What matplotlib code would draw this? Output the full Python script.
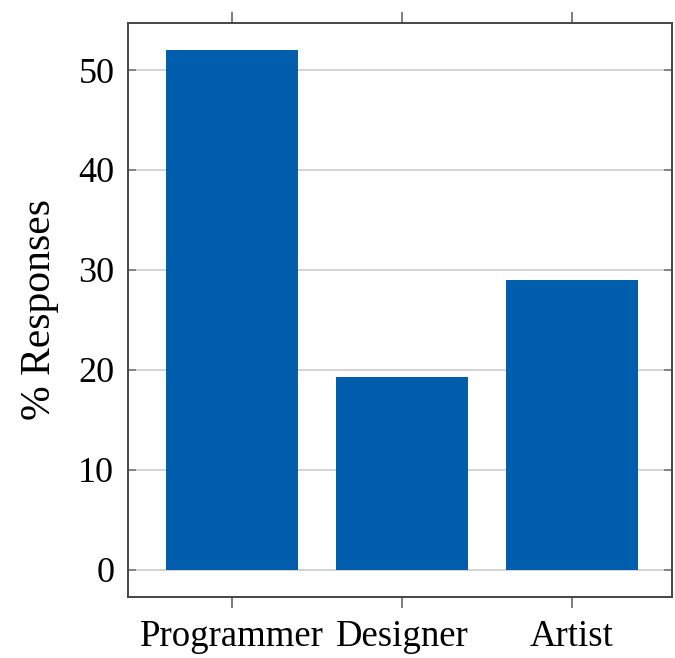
import matplotlib
matplotlib.use("Agg")
import matplotlib.pyplot as plt

roles = ["Programmer", "Designer", "Artist"]
responses = [52.0, 19.3, 29.0]
yticks = [0, 10, 20, 30, 40, 50]

plt.rcParams["font.family"] = ["Liberation Serif", "DejaVu Serif"]

fig = plt.figure(figsize=(6.75, 6.58), dpi=100)
ax = fig.add_axes([0.19, 0.093, 0.806, 0.872])

x = range(len(roles))
ax.bar(x, responses, width=0.78, color="#005EAD", zorder=3)

ax.set_xlim(-0.61, 2.59)
ax.set_ylim(-2.7, 54.7)
ax.set_xticks(list(x))
ax.set_xticklabels(roles, fontsize=26.5)
ax.set_yticks(yticks)
ax.set_yticklabels([str(v) for v in yticks], fontsize=26)
ax.set_ylabel("% Responses", fontsize=30, labelpad=14)

ax.grid(axis="y", color="#cccccc", linewidth=1.2, zorder=0)
ax.tick_params(axis="x", direction="out", length=8, width=1.2, color="#666666",
               top=True, pad=8)
ax.tick_params(axis="y", direction="in", length=6, width=1.2, color="#777777",
               right=True, pad=10)
for s in ax.spines.values():
    s.set_color("#444444")
    s.set_linewidth(1.4)

fig.savefig("out.png", dpi=100)
